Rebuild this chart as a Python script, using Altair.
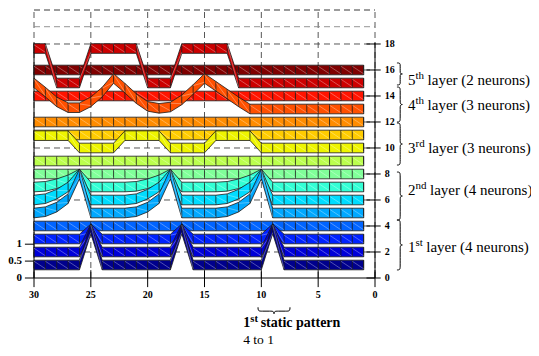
import altair as alt
import pandas as pd

# ---------------- data ----------------
T = [30, 29, 28, 27, 26, 25, 24, 23, 22, 21, 20, 19, 18, 17, 16, 15, 14, 13, 12, 11,
     10, 9, 8, 7, 6, 5, 4, 3, 2, 1]

# ribbon centre level of each neuron at time steps t = 30 ... 1
n1 = [1, 1, 1, 1, 1, 3.78, 1, 1, 1, 1, 1, 1, 1, 3.78, 1, 1, 1, 1, 1, 1, 1, 3.78, 1, 1, 1, 1, 1, 1, 1, 1]
n2 = [2, 2, 2, 2, 2, 3.78, 2, 2, 2, 2, 2, 2, 2, 3.78, 2, 2, 2, 2, 2, 2, 2, 3.78, 2, 2, 2, 2, 2, 2, 2, 2]
n3 = [3, 3, 3, 3, 3, 3.78, 3, 3, 3, 3, 3, 3, 3, 3.78, 3, 3, 3, 3, 3, 3, 3, 3.78, 3, 3, 3, 3, 3, 3, 3, 3]
n4 = [4, 4, 4, 4, 4, 4, 4, 4, 4, 4, 4, 4, 4, 4, 4, 4, 4, 4, 4, 4, 4, 4, 4, 4, 4, 4, 4, 4, 4, 4]
n5 = [5.0, 5.1, 5.45, 6.1, 8.0, 5, 5, 5, 5, 5.1, 5.45, 6.1, 8.0, 5, 5, 5, 5, 5.1, 5.45, 6.1, 8.0,
      5, 5, 5, 5, 5, 5, 5, 5, 5]
n6 = [6.0, 6.1, 6.45, 7.0, 8.0, 6, 6, 6, 6, 6.1, 6.45, 7.0, 8.0, 6, 6, 6, 6, 6.1, 6.45, 7.0, 8.0,
      6, 6, 6, 6, 6, 6, 6, 6, 6]
n7 = [7.0, 7.05, 7.25, 7.55, 8.0, 7, 7, 7, 7, 7.05, 7.25, 7.55, 8.0, 7, 7, 7, 7, 7.05, 7.25, 7.55, 8.0,
      7, 7, 7, 7, 7, 7, 7, 7, 7]
n8 = [8, 8, 8, 8, 8, 8, 8, 8, 8, 8, 8, 8, 8, 8, 8, 8, 8, 8, 8, 8, 8, 8, 8, 8, 8, 8, 8, 8, 8, 8]
n9 = [9, 9, 9, 9, 9, 9, 9, 9, 9, 9, 9, 9, 9, 9, 9, 9, 9, 9, 9, 9, 9, 9, 9, 9, 9, 9, 9, 9, 9, 9]
n10 = [10.95, 10.95, 10.95, 10.95, 10, 10, 10, 10, 10.95, 10.95, 10.95, 10.95, 10, 10, 10, 10,
       10.95, 10.95, 10.95, 10.95, 10, 10, 10, 10, 10, 10, 10, 10, 10, 10]
n11 = [11, 11, 11, 11, 11, 11, 11, 11, 11, 11, 11, 11, 11, 11, 11, 11, 11, 11, 11, 11, 11, 11, 11, 11, 11, 11, 11, 11, 11, 11]
n12 = [12, 12, 12, 12, 12, 12, 12, 12, 12, 12, 12, 12, 12, 12, 12, 12, 12, 12, 12, 12, 12, 12, 12, 12, 12, 12, 12, 12, 12, 12]
n13 = [15.0, 14.3, 13.55, 13.1, 13.1, 13.55, 14.3, 15.35, 14.6, 13.8, 13.2, 13.05, 13.15, 13.7,
       14.5, 15.35, 14.75, 14.15, 13.55, 13.0, 13, 13, 13, 13, 13, 13, 13, 13, 13, 13]
n14 = [14, 14, 14, 14, 14, 14, 14, 14, 14, 14, 14, 14, 14, 14, 14, 14, 14, 14, 14, 14, 14, 14, 14, 14, 14, 14, 14, 14, 14, 14]
n15 = [17.65, 17.65, 15, 15, 15, 17.65, 17.65, 17.65, 17.65, 17.65, 15, 15, 15, 17.65, 17.65,
       17.65, 17.65, 17.65, 15, 15, 15, 15, 15, 15, 15, 15, 15, 15, 15, 15]
n16 = [16, 16, 16, 16, 16, 16, 16, 16, 16, 16, 16, 16, 16, 16, 16, 16, 16, 16, 16, 16, 16, 16, 16, 16, 16, 16, 16, 16, 16, 16]

ribbons = [n1, n2, n3, n4, n5, n6, n7, n8, n9, n10, n11, n12, n13, n14, n15, n16]
colors = ["#00008C", "#0000D8", "#0022FF", "#0064FF", "#00A8FF", "#00DCFF", "#33FFD5", "#80FF99",
          "#BBFF4D", "#EEF500", "#FFCC00", "#FF8C00", "#FF5000", "#FF1400", "#CC0000", "#800000"]

x_ticks = [30, 25, 20, 15, 10, 5, 0]
right_ticks = [0, 2, 4, 6, 8, 10, 12, 14, 16, 18]
left_ticks = [0, 0.5, 1]
left_labels = ["0", "0.5", "1"]
LEFT_FACTOR = 2.6          # one unit of the left axis in right-axis units
grid_y = [2, 4, 6, 8, 10, 12, 14, 16, 18, 19.33, 20.615]
grid_col = ["#444"] * 9 + ["#888", "#222"]
Y_TOP = 20.615

layer_num = ["5", "4", "3", "2", "1"]
layer_sup = ["th", "th", "rd", "nd", "st"]
layer_rest = ["layer (2 neurons)", "layer (3 neurons)", "layer (3 neurons)",
              "layer (4 neurons)", "layer (4 neurons)"]
layer_y = [15.23, 13.3, 10.0, 6.77, 2.38]
sup_w = [8.6, 8.6, 9.2, 11.0, 7.3]
brace_top = [16.54, 14.69, 11.92, 8.15, 4.46]
brace_bot = [14.85, 12.0, 8.69, 4.46, 0.62]

HH = 0.37  # half height of a ribbon

# ---------------- scales ----------------
xs = alt.Scale(domain=[0, 30], reverse=True, nice=False, zero=False)
ys = alt.Scale(domain=[0, Y_TOP], nice=False, zero=False)
FONT = "Liberation Serif"


def X(f):
    return alt.X(f + ":Q", scale=xs, axis=None)


def Y(f):
    return alt.Y(f + ":Q", scale=ys, axis=None)


layers = []

# grid
vg = pd.DataFrame({"t": x_ticks, "a": 0.0, "b": Y_TOP})
layers.append(alt.Chart(vg).mark_rule(color="#444", strokeDash=[6, 4], strokeWidth=0.9)
              .encode(x=X("t"), y=Y("a"), y2="b:Q"))
hg = pd.DataFrame({"y": grid_y, "a": 30.0, "b": 0.0, "c": grid_col})
layers.append(alt.Chart(hg).mark_rule(strokeDash=[6, 4], strokeWidth=0.9)
              .encode(y=Y("y"), x=X("a"), x2="b:Q", color=alt.Color("c:N", scale=None)))

# axis lines
ax = pd.DataFrame({"x": [30, 0, 30], "x2": [30, 0, 0], "y": [0, 0, 0], "y2": [18.1, 18.1, 0]})
layers.append(alt.Chart(ax).mark_rule(color="black", strokeWidth=1)
              .encode(x=X("x"), x2="x2:Q", y=Y("y"), y2="y2:Q"))

# ticks
xt = pd.DataFrame({"t": x_ticks, "a": 0.6, "b": -0.7})
layers.append(alt.Chart(xt).mark_rule(color="black", strokeWidth=1)
              .encode(x=X("t"), y=Y("a"), y2="b:Q"))
rt = pd.DataFrame({"y": right_ticks, "a": 0.75, "b": -0.5})
layers.append(alt.Chart(rt).mark_rule(color="black", strokeWidth=1)
              .encode(y=Y("y"), x=X("a"), x2="b:Q"))
lt = pd.DataFrame({"y": [v * LEFT_FACTOR for v in left_ticks], "a": 30.8, "b": 30.0})
layers.append(alt.Chart(lt).mark_rule(color="black", strokeWidth=1)
              .encode(y=Y("y"), x=X("a"), x2="b:Q"))

# ribbons, top neuron drawn first so lower neurons lie in front
for k in range(15, -1, -1):
    v = ribbons[k]
    df = pd.DataFrame({"t": T, "lo": [a - HH for a in v], "hi": [a + HH for a in v]})
    layers.append(alt.Chart(df).mark_area(color=colors[k], stroke="#1a1a1a", strokeWidth=0.8,
                                          opacity=1, interpolate="linear")
                  .encode(x=X("t"), y=Y("lo"), y2="hi:Q"))
    layers.append(alt.Chart(df).mark_rule(color="#1a1a1a", strokeWidth=0.8)
                  .encode(x=X("t"), y=Y("lo"), y2="hi:Q"))
    dg = pd.DataFrame({"t": T[:-1], "t2": T[1:],
                       "a": [a + HH - 0.08 for a in v[:-1]],
                       "b": [a - HH + 0.08 for a in v[1:]]})
    layers.append(alt.Chart(dg).mark_rule(color="white", strokeWidth=0.7, opacity=0.45)
                  .encode(x=X("t"), x2="t2:Q", y=Y("a"), y2="b:Q"))

# tick labels
txt_style = dict(font=FONT, fontWeight="bold", fontSize=10, color="black")
xl = pd.DataFrame({"t": x_ticks, "y": -1.3, "s": [str(v) for v in x_ticks]})
layers.append(alt.Chart(xl).mark_text(align="center", baseline="middle", **txt_style)
              .encode(x=X("t"), y=Y("y"), text="s:N"))
rl = pd.DataFrame({"t": -0.85, "y": right_ticks, "s": [str(v) for v in right_ticks]})
layers.append(alt.Chart(rl).mark_text(align="left", baseline="middle", **txt_style)
              .encode(x=X("t"), y=Y("y"), text="s:N"))
ll = pd.DataFrame({"t": 31.06, "y": [v * LEFT_FACTOR for v in left_ticks], "s": left_labels})
layers.append(alt.Chart(ll).mark_text(align="right", baseline="middle",
                                      font=FONT, fontWeight="bold", fontSize=11, color="black")
              .encode(x=X("t"), y=Y("y"), text="s:N"))

# braces


def brace(a0, a1, c0, c1):
    am = (a0 + a1) / 2.0
    cm = c0 + 0.5 * (c1 - c0)
    s = 0.12 * abs(a1 - a0) if abs(a1 - a0) < 3 else 0.3
    sg = 1 if a1 > a0 else -1
    return [(a0, c0), (a0, cm), (a0 + sg * s, cm), (am - sg * s, cm), (am, cm), (am, c1),
            (am, cm), (am + sg * s, cm), (a1 - sg * s, cm), (a1, cm), (a1, c0)]


rows = []
for j in range(5):
    for i, (a, c) in enumerate(brace(brace_top[j], brace_bot[j], -1.93, -2.5)):
        rows.append({"b": j, "i": i, "x": c, "y": a})
for i, (a, c) in enumerate(brace(10.29, 7.48, -2.25, -2.85)):
    rows.append({"b": 9, "i": i, "x": a, "y": c})
br = pd.DataFrame(rows)
layers.append(alt.Chart(br).mark_line(color="black", strokeWidth=1, interpolate="basis")
              .encode(x=X("x"), y=Y("y"), detail="b:N", order="i:Q"))

# layer labels
lab = pd.DataFrame({"t": -2.9, "y": layer_y, "n": layer_num, "s": layer_sup, "r": layer_rest,
                    "w": sup_w})
layers.append(alt.Chart(lab).mark_text(align="left", baseline="middle", font=FONT, fontSize=15,
                                       color="black")
              .encode(x=X("t"), y=Y("y"), text="n:N"))
layers.append(alt.Chart(lab).mark_text(align="left", baseline="middle", font=FONT, fontSize=11,
                                       color="black", dx=7.5, dy=-4)
              .encode(x=X("t"), y=Y("y"), text="s:N"))
for j in range(5):
    layers.append(alt.Chart(lab.iloc[[j]]).mark_text(align="left", baseline="middle", font=FONT,
                                                     fontSize=15, color="black",
                                                     dx=7.5 + sup_w[j] + 3.5)
                  .encode(x=X("t"), y=Y("y"), text="r:N"))

# bottom annotation
bt = pd.DataFrame({"t": [11.6], "y": [-3.45], "n": ["1"], "s": ["st"], "r": ["static pattern"],
                   "l2": ["4 to 1"], "y2": [-4.75]})
layers.append(alt.Chart(bt).mark_text(align="left", baseline="middle", font=FONT, fontSize=14,
                                      fontWeight="bold", color="black")
              .encode(x=X("t"), y=Y("y"), text="n:N"))
layers.append(alt.Chart(bt).mark_text(align="left", baseline="middle", font=FONT, fontSize=10.5,
                                      fontWeight="bold", color="black", dx=7.2, dy=-4)
              .encode(x=X("t"), y=Y("y"), text="s:N"))
layers.append(alt.Chart(bt).mark_text(align="left", baseline="middle", font=FONT, fontSize=14,
                                      fontWeight="bold", color="black", dx=17.5)
              .encode(x=X("t"), y=Y("y"), text="r:N"))
layers.append(alt.Chart(bt).mark_text(align="left", baseline="middle", font=FONT, fontSize=13.5,
                                      color="black")
              .encode(x=X("t"), y=Y("y2"), text="l2:N"))

chart = (alt.layer(*layers)
         .properties(width=341, height=268,
                     padding={"left": 26, "top": 2, "right": 156, "bottom": 70},
                     autosize=alt.AutoSizeParams(type="none"))
         .configure_view(stroke=None))

chart.save("out.html", embed_options={"renderer": "svg", "actions": False})
